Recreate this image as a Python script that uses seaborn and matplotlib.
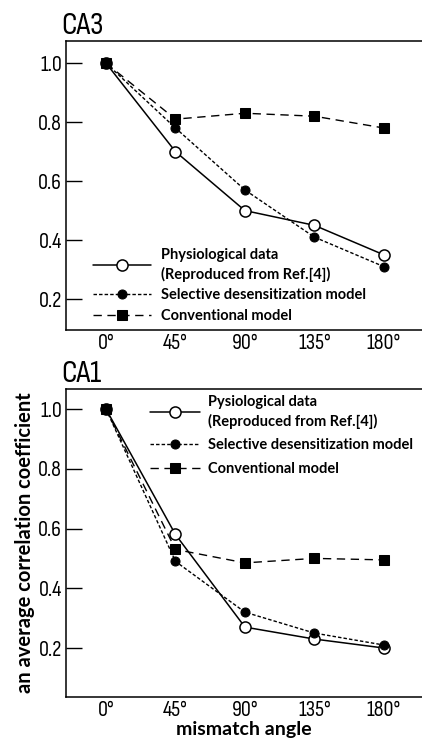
import matplotlib
matplotlib.use("Agg")
import matplotlib.pyplot as plt
import seaborn as sns

angles = [0, 45, 90, 135, 180]
angle_labels = ["0°", "45°", "90°", "135°", "180°"]
y_ticks = [0.2, 0.4, 0.6, 0.8, 1.0]
y_tick_labels = ["0.2", "0.4", "0.6", "0.8", "1.0"]

# CA3
ca3_physio = [1.00, 0.70, 0.50, 0.45, 0.35]
ca3_selective = [1.00, 0.78, 0.57, 0.41, 0.31]
ca3_conventional = [1.00, 0.81, 0.83, 0.82, 0.78]

# CA1
ca1_physio = [1.00, 0.58, 0.27, 0.23, 0.20]
ca1_selective = [1.00, 0.49, 0.32, 0.25, 0.21]
ca1_conventional = [1.00, 0.53, 0.485, 0.50, 0.495]

sns.set_theme(style="white")
plt.rcParams['font.family'] = ['Lato', 'DejaVu Sans']
plt.rcParams['text.color'] = 'black'
plt.rcParams['axes.labelcolor'] = 'black'
plt.rcParams['xtick.color'] = 'black'
plt.rcParams['ytick.color'] = 'black'
narrow = ['Sofia Sans Condensed', 'DejaVu Sans']

fig = plt.figure(figsize=(4.22, 7.40), dpi=100)
ax_top = fig.add_axes([0.1564, 0.554, 0.8436, 0.3906])
ax_bot = fig.add_axes([0.1564, 0.0581, 0.8436, 0.4162])


def draw(ax, physio, selective, conventional, physio_label):
    sns.lineplot(x=angles, y=physio, ax=ax, color='black', linewidth=1.1,
                 linestyle='-', marker='o', markersize=8,
                 markerfacecolor='white', markeredgecolor='black',
                 markeredgewidth=1.1, label=physio_label)
    sns.lineplot(x=angles, y=selective, ax=ax, color='black', linewidth=1.0,
                 linestyle=(0, (2.5, 1.5)), marker='o', markersize=6.5,
                 markerfacecolor='black', markeredgecolor='black',
                 label='Selective desensitization model')
    sns.lineplot(x=angles, y=conventional, ax=ax, color='black', linewidth=1.0,
                 linestyle=(0, (6, 4)), marker='s', markersize=6.5,
                 markerfacecolor='black', markeredgecolor='black',
                 label='Conventional model')
    ax.set_xlim(-25.9, 204.7)
    ax.set_xticks(angles)
    ax.set_xticklabels(angle_labels, family=narrow, fontsize=16)
    ax.set_yticks(y_ticks)
    ax.set_yticklabels(y_tick_labels, family=narrow, fontsize=16)
    ax.tick_params(axis='x', length=0, pad=3)
    ax.tick_params(axis='y', direction='in', length=11.5, width=1.0,
                   color='black', pad=3, left=True)
    for side in ['left', 'top', 'bottom']:
        ax.spines[side].set_visible(True)
        ax.spines[side].set_color('black')
        ax.spines[side].set_linewidth(1.1)
    ax.spines['right'].set_visible(False)
    ax.grid(False)


legend_font = {'weight': 'bold', 'size': 10.5}

draw(ax_top, ca3_physio, ca3_selective, ca3_conventional,
     'Physiological data\n(Reproduced from Ref.[4])')
ax_top.set_ylim(0.095, 1.075)
leg = ax_top.legend(loc='lower left', bbox_to_anchor=(0.055, 0.0),
                    frameon=False, prop=legend_font, handlelength=4.0,
                    handletextpad=0.7, labelspacing=0.45, borderaxespad=0.1)
for t in leg.get_texts():
    t.set_linespacing(1.35)
ax_top.set_title('CA3', family=narrow, fontsize=23, loc='left', x=-0.012,
                 pad=5)

draw(ax_bot, ca1_physio, ca1_selective, ca1_conventional,
     'Pysiological data\n(Reproduced from Ref.[4])')
ax_bot.set_ylim(0.036, 1.067)
leg = ax_bot.legend(loc='upper left', bbox_to_anchor=(0.22, 1.0),
                    frameon=False, prop=legend_font, handlelength=3.4,
                    handletextpad=0.6, labelspacing=0.65, borderaxespad=0.0)
for t in leg.get_texts():
    t.set_linespacing(1.4)
ax_bot.set_title('CA1', family=narrow, fontsize=23, loc='left', x=-0.012,
                 pad=5)
ax_bot.set_xlabel('mismatch angle', fontsize=14, fontweight='bold', labelpad=0.5)
ax_bot.set_ylabel('an average correlation coefficient', fontsize=14.5,
                  fontweight='bold', labelpad=2)

fig.savefig('out.png', dpi=100)
